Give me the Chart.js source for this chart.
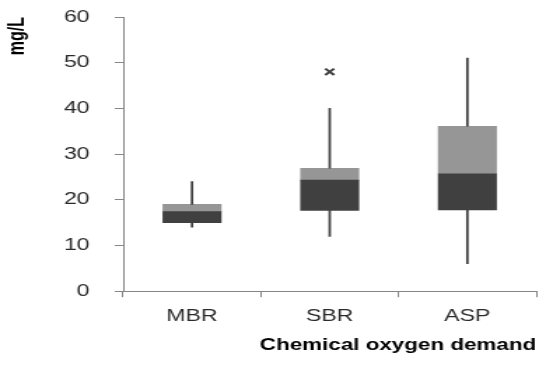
<!DOCTYPE html>
<html>
<head>
<meta charset="utf-8">
<script src="https://cdn.jsdelivr.net/npm/chart.js@4/dist/chart.umd.min.js"></script>
<style>
  html, body { margin: 0; padding: 0; background: #fff; overflow: hidden; }
  /* the original picture is stretched sideways, so draw narrow and widen */
  #wrap { width: 390px; height: 365px; transform: scaleX(1.4); transform-origin: 0 0; }
</style>
</head>
<body>
<div id="wrap"><canvas id="cod-chart"></canvas></div>
<script>
const categories = ['MBR', 'SBR', 'ASP'];
const minVals = [14, 12, 6];
const q1Vals = [15, 17.7, 17.8];
const medianVals = [17.4, 24.3, 25.7];
const q3Vals = [19, 26.9, 36.1];
const maxVals = [24, 40, 51];
const outliers = [null, 48, null];

const dark = '#404040';
const light = '#969696';
const axisGrey = '#868686';

const pairs = (a, b) => a.map((v, i) => [v, b[i]]);

new Chart(document.getElementById('cod-chart'), {
  type: 'bar',
  data: {
    labels: categories,
    datasets: [
      {
        label: 'Lower whisker',
        data: pairs(minVals, q1Vals),
        backgroundColor: dark,
        barThickness: 1.1,
        grouped: false
      },
      {
        label: 'Upper whisker',
        data: pairs(q3Vals, maxVals),
        backgroundColor: dark,
        barThickness: 1.1,
        grouped: false
      },
      {
        label: 'Q1 to median',
        data: pairs(q1Vals, medianVals),
        backgroundColor: dark,
        barThickness: 41.5,
        grouped: false
      },
      {
        label: 'Median to Q3',
        data: pairs(medianVals, q3Vals),
        backgroundColor: light,
        barThickness: 41.5,
        grouped: false
      },
      {
        type: 'line',
        label: 'Outliers',
        data: outliers,
        showLine: false,
        pointStyle: 'crossRot',
        pointRadius: 4.5,
        pointBorderWidth: 2,
        pointBorderColor: dark,
        pointBackgroundColor: dark
      }
    ]
  },
  options: {
    responsive: true,
    maintainAspectRatio: false,
    animation: false,
    layout: { padding: { top: 0, right: 7, bottom: 10, left: 0 } },
    plugins: {
      legend: { display: false },
      tooltip: { enabled: false }
    },
    scales: {
      x: {
        offset: true,
        grid: { drawOnChartArea: false, tickLength: 6, color: axisGrey },
        border: { color: axisGrey },
        ticks: {
          padding: 9.4,
          color: '#2a2a2a',
          font: { family: 'Liberation Sans', size: 16.5 }
        },
        title: {
          display: true,
          text: 'Chemical oxygen demand',
          align: 'end',
          color: '#000',
          padding: { top: 0, bottom: 0 },
          font: { family: 'Liberation Sans', size: 16, weight: 'bold' }
        }
      },
      y: {
        min: 0,
        max: 60,
        afterFit: scale => {
          scale.width = 88;
          scale.paddingTop = 17;
        },
        grid: { drawOnChartArea: false, tickLength: 6, color: axisGrey },
        border: { color: axisGrey },
        ticks: {
          stepSize: 10,
          padding: 18,
          color: '#2a2a2a',
          font: { family: 'Liberation Sans', size: 16.5 }
        },
        title: {
          display: true,
          text: 'mg/L',
          align: 'end',
          color: '#000',
          padding: { top: 3, bottom: 0 },
          font: { family: 'Liberation Sans', size: 16, weight: 'bold' }
        }
      }
    }
  }
});
</script>
</body>
</html>
